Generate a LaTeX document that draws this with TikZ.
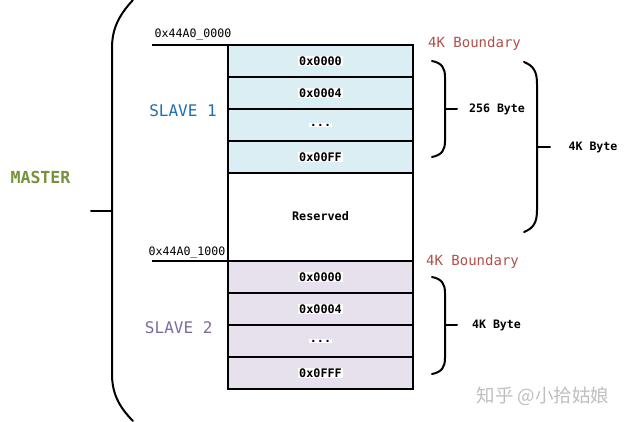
\documentclass[tikz,border=0pt]{standalone}
\usepackage{fontspec}
\newfontfamily\monofam{DejaVu Sans Mono}
\newfontfamily\cjkfam{Noto Sans CJK SC}
\definecolor{masterc}{HTML}{76923C}
\definecolor{slaveone}{HTML}{1F6FAE}
\definecolor{slavetwo}{HTML}{7E6A9F}
\definecolor{boundc}{HTML}{B0504A}
\definecolor{fillone}{HTML}{DAEEF3}
\definecolor{filltwo}{HTML}{E6E1EC}
\begin{document}
\begin{tikzpicture}[x=1pt,y=-1pt,
  cellbox/.style={draw=black,line width=2pt,minimum width=185pt,minimum height=32pt,inner sep=0pt,outer sep=0pt},
  cellone/.style={cellbox,fill=fillone},
  celltwo/.style={cellbox,fill=filltwo},
  celltext/.style={fill=white,inner sep=1pt,font=\monofam\bfseries\fontsize{11.8}{13}\selectfont},
  addr/.style={inner sep=0pt,font=\monofam\fontsize{11.6}{13}\selectfont},
  bound/.style={inner sep=0pt,text=boundc,font=\monofam\fontsize{14}{16}\selectfont},
  slavelab/.style={inner sep=0pt,font=\monofam\fontsize{16}{18}\selectfont},
  bytelab/.style={inner sep=0pt,font=\monofam\bfseries\fontsize{11.6}{13}\selectfont},
  brace/.style={line width=2pt,line cap=round}
]
\useasboundingbox (0,0) rectangle (626,422);
\fill[white] (0,0) rectangle (626,422);

% slave 1 cells
\node[cellone] (a1) at (320.5,61) {};
\node[cellone] (a2) at (320.5,93) {};
\node[cellone] (a3) at (320.5,125) {};
\node[cellone] (a4) at (320.5,157) {};
\node[cellbox,minimum height=88pt,fill=white] (res) at (320.5,217) {};
\node[celltwo] (b1) at (320.5,277) {};
\node[celltwo] (b2) at (320.5,309) {};
\node[celltwo] (b3) at (320.5,341) {};
\node[celltwo] (b4) at (320.5,373) {};

\node[celltext] (t1) at (a1) {0x0000};
\node[celltext] (t2) at (a2) {0x0004};
\node[celltext] (t3) at (a3) {...};
\node[celltext] (t4) at (a4) {0x00FF};
\node[celltext] (tr) at (320.5,216) {Reserved};
\node[celltext] (u1) at (b1) {0x0000};
\node[celltext] (u2) at (b2) {0x0004};
\node[celltext] (u3) at (b3) {...};
\node[celltext] (u4) at (b4) {0x0FFF};

% address lines
\coordinate (la) at (152,45);
\coordinate (lb) at (152,261);
\draw[line width=2pt] (la) -- (a1.north west);
\draw[line width=2pt] (lb) -- (b1.north west);
\node[addr] (addra) at (193,35) {0x44A0\_0000};
\node[addr] (addrb) at (187,252.5) {0x44A0\_1000};

\node[bound] (bda) at (474.5,44) {4K Boundary};
\node[bound] (bdb) at (472.5,262) {4K Boundary};

\node[slavelab,text=slaveone] (s1) at (183,110.5) {SLAVE 1};
\node[slavelab,text=slavetwo] (s2) at (178.7,328) {SLAVE 2};
\node[inner sep=0pt,text=masterc,font=\monofam\bfseries\fontsize{16.6}{18}\selectfont] (m) at (40.5,177) {MASTER};

% big left brace
\draw[brace] (133,0) .. controls (118,16) and (112,30) .. (112,48)
  -- (112,374) .. controls (112,392) and (118,406) .. (133,421);
\draw[brace] (112,211) -- (91,211);

% 256 Byte brace
\draw[brace] (432,61) .. controls (442,63) and (445,68) .. (445,77)
  -- (445,141) .. controls (445,150) and (442,155) .. (432,157);
\draw[brace] (445,109) -- (457,109);
\node[bytelab] (by1) at (497,109) {256 Byte};

% 4K Byte brace (upper)
\draw[brace] (524,62) .. controls (534,66) and (537,72) .. (537,84)
  -- (537,210) .. controls (537,222) and (534,228) .. (524,232);
\draw[brace] (537,147) -- (550,147);
\node[bytelab] (by2) at (593,147) {4K Byte};

% 4K Byte brace (lower)
\draw[brace] (432,277) .. controls (442,279) and (445,284) .. (445,293)
  -- (445,358) .. controls (445,367) and (442,372) .. (432,374);
\draw[brace] (445,325) -- (457,325);
\node[bytelab] (by3) at (496.5,325) {4K Byte};

% watermark
\node[inner sep=0pt,text=black!25,font=\cjkfam\fontsize{18.5}{20}\selectfont] (wm) at (543,396) {知乎 @小拾姑娘};
\end{tikzpicture}
\end{document}
